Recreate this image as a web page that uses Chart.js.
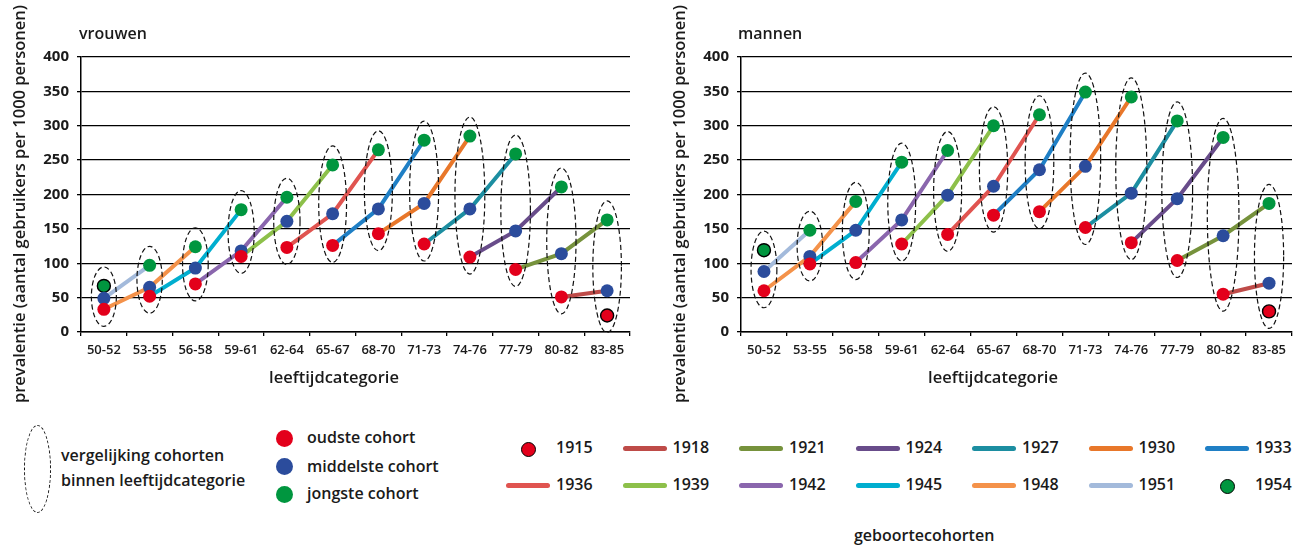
<!DOCTYPE html>
<html lang="nl">
<head>
<meta charset="utf-8">
<script src="https://cdn.jsdelivr.net/npm/chart.js@4.4.1/dist/chart.umd.min.js"></script>
<style>
  html, body { margin: 0; padding: 0; background: #fff; }
  body { font-family: 'Open Sans', 'Noto Sans', sans-serif; color: #1a1a1a; }
  #wrap { position: relative; width: 1301px; height: 546px; overflow: hidden; }
  .paneel { position: absolute; top: 0; height: 400px; }
  .titel { position: absolute; top: 22px; font-size: 16px; font-weight: 600; line-height: 22px; }
  .xtitel { position: absolute; top: 366px; font-size: 16.5px; font-weight: 600; line-height: 22px; width: 200px; text-align: center; }
  .ytitel { position: absolute; width: 420px; height: 20px; line-height: 20px; text-align: center;
            font-size: 16.5px; font-weight: 600; transform: rotate(-90deg); white-space: nowrap; }
  .lg { position: absolute; font-size: 16px; font-weight: 600; line-height: 22px; white-space: nowrap; }
  .dot { position: absolute; border-radius: 50%; box-sizing: border-box; }
  .streep { position: absolute; height: 5px; border-radius: 3px; }
</style>
</head>
<body>
<div id="wrap">
  <div class="paneel" style="left:0;width:650px"><canvas id="vrouwen" width="650" height="400"></canvas></div>
  <div class="paneel" style="left:660px;width:641px"><canvas id="mannen" width="641" height="400"></canvas></div>

  <div class="titel" style="left:79px">vrouwen</div>
  <div class="titel" style="left:738px">mannen</div>
  <div class="xtitel" style="left:234px">leeftijdcategorie</div>
  <div class="xtitel" style="left:893px">leeftijdcategorie</div>
  <div class="ytitel" style="left:-191px;top:194px">prevalentie (aantal gebruikers per 1000 personen)</div>
  <div class="ytitel" style="left:469px;top:194px">prevalentie (aantal gebruikers per 1000 personen)</div>

  <div id="legenda"></div>
</div>

<script>
// leeftijdscategorieën en geboortecohorten
const leeftijden = ["50-52", "53-55", "56-58", "59-61", "62-64", "65-67", "68-70", "71-73", "74-76", "77-79", "80-82", "83-85"];
const cohorten = [1915, 1918, 1921, 1924, 1927, 1930, 1933, 1936, 1939, 1942, 1945, 1948, 1951, 1954];
const cohortKleuren = ["#E3001B", "#BE4B48", "#76923C", "#684C8A", "#1C8EA1", "#E8772A", "#1F7FC5",
                       "#E05450", "#8DC04A", "#8A66AD", "#00AECF", "#F4924A", "#A3BADB", "#00963F"];
const yTicks = [0, 50, 100, 150, 200, 250, 300, 350, 400];

// prevalentie per leeftijdscategorie (per 1000 personen)
const vrouwenOudste    = [33, 52, 70, 110, 123, 126, 143, 128, 109, 91, 51, 24];
const vrouwenMiddelste = [49, 65, 93, 118, 161, 172, 179, 187, 179, 147, 114, 60];
const vrouwenJongste   = [67, 97, 124, 178, 196, 243, 265, 279, 285, 259, 211, 163];

const mannenOudste     = [60, 99, 101, 128, 142, 170, 175, 152, 130, 104, 55, 30];
const mannenMiddelste  = [88, 110, 148, 163, 199, 212, 236, 241, 202, 194, 140, 71];
const mannenJongste    = [119, 148, 190, 247, 264, 300, 316, 349, 342, 307, 283, 187];

const ROOD = "#E3001B", BLAUW = "#2B4C9C", GROEN = "#00963F";
const FONT = "'Open Sans', 'Noto Sans', sans-serif";
const laatsteCohort = cohorten[cohorten.length - 1];

// cohort van een punt: leeftijdsindex i, positie 0 = oudste, 1 = middelste, 2 = jongste
function cohortVan(i, pos) {
  return laatsteCohort - 6 + pos * 3 - i * 3;
}

function cohortLijnen(oudste, middelste, jongste) {
  const reeksen = [oudste, middelste, jongste];
  const lijnen = [];
  cohorten.forEach((jaar, k) => {
    const data = leeftijden.map(() => null);
    let n = 0;
    for (let pos = 0; pos < 3; pos++) {
      const i = (laatsteCohort - 6 + pos * 3 - jaar) / 3;
      if (i >= 0 && i < leeftijden.length) {
        data[i] = reeksen[pos][i];
        n++;
      }
    }
    if (n < 2) return;
    lijnen.push({
      label: String(jaar),
      data: data,
      borderColor: cohortKleuren[k],
      borderWidth: 4,
      pointRadius: 0,
      pointHoverRadius: 0,
      fill: false,
      spanGaps: false,
      order: 2,
    });
  });
  return lijnen;
}

function puntReeks(label, data, kleur, pos) {
  return {
    label: label,
    data: data,
    showLine: false,
    pointRadius: 6.5,
    pointHoverRadius: 6.5,
    pointBackgroundColor: kleur,
    pointBorderColor: "#000",
    pointBorderWidth: data.map((v, i) => {
      const c = cohortVan(i, pos);
      return c === cohorten[0] || c === laatsteCohort ? 1.4 : 0;
    }),
    order: 0,
  };
}

// gestippelde ellipsen rond elke leeftijdscategorie
function ellipsPlugin(reeksen) {
  return {
    id: "ellipsen",
    afterDatasetsDraw(chart) {
      const { ctx, scales } = chart;
      ctx.save();
      ctx.setLineDash([5, 3]);
      ctx.lineWidth = 1.2;
      ctx.strokeStyle = "#111";
      leeftijden.forEach((lab, i) => {
        const ys = reeksen.map((r) => scales.y.getPixelForValue(r[i]));
        const boven = Math.min(...ys) - 19;
        const onder = Math.max(...ys) + 17;
        const ry = (onder - boven) / 2;
        const rx = 11 + ry * 0.05;
        ctx.beginPath();
        ctx.ellipse(scales.x.getPixelForValue(i), (boven + onder) / 2, rx, ry, 0, 0, Math.PI * 2);
        ctx.stroke();
      });
      ctx.restore();
    },
  };
}

function maakGrafiek(id, oudste, middelste, jongste, rechts) {
  const ctx = document.getElementById(id).getContext("2d");
  return new Chart(ctx, {
    type: "line",
    data: {
      labels: leeftijden,
      datasets: [
        puntReeks("oudste cohort", oudste, ROOD, 0),
        puntReeks("middelste cohort", middelste, BLAUW, 1),
        puntReeks("jongste cohort", jongste, GROEN, 2),
        ...cohortLijnen(oudste, middelste, jongste),
      ],
    },
    options: {
      responsive: false,
      animation: false,
      layout: { padding: { left: 0, top: 57, right: rechts, bottom: 0 } },
      plugins: { legend: { display: false }, tooltip: { enabled: false }, title: { display: false } },
      scales: {
        x: {
          offset: true,
          grid: { offset: true, drawOnChartArea: false, drawTicks: true, tickLength: 4, color: "#000", lineWidth: 1.3 },
          border: { color: "#000", width: 1.5 },
          ticks: { color: "#1a1a1a", font: { family: FONT, size: 13, weight: "600" }, padding: 6, maxRotation: 0, autoSkip: false },
          afterFit: (s) => { s.height = 68; },
        },
        y: {
          min: yTicks[0],
          max: yTicks[yTicks.length - 1],
          afterBuildTicks: (s) => { s.ticks = yTicks.map((v) => ({ value: v })); },
          ticks: { color: "#1a1a1a", font: { family: FONT, size: 15, weight: "bold" }, padding: 8 },
          grid: { color: "#000", lineWidth: 1.3, tickLength: 4 },
          border: { color: "#000", width: 1.5 },
          afterFit: (s) => { s.width = 81; },
        },
      },
    },
    plugins: [ellipsPlugin([oudste, middelste, jongste])],
  });
}

maakGrafiek("vrouwen", vrouwenOudste, vrouwenMiddelste, vrouwenJongste, 20);
maakGrafiek("mannen", mannenOudste, mannenMiddelste, mannenJongste, 9);

// legenda
const legenda = document.getElementById("legenda");
function el(cls, stijl, tekst) {
  const d = document.createElement("div");
  d.className = cls;
  Object.assign(d.style, stijl);
  if (tekst) d.textContent = tekst;
  legenda.appendChild(d);
  return d;
}

el("dot", { left: "24px", top: "425px", width: "27px", height: "88px", border: "1.2px dashed #111" });
el("lg", { left: "61px", top: "444px" }, "vergelijking cohorten");
el("lg", { left: "61px", top: "469px" }, "binnen leeftijdcategorie");

[["oudste cohort", ROOD, 438], ["middelste cohort", BLAUW, 466.5], ["jongste cohort", GROEN, 494]].forEach(([t, k, y]) => {
  el("dot", { left: "275.5px", top: (y - 8.5) + "px", width: "17px", height: "17px", background: k });
  el("lg", { left: "307px", top: (y - 12) + "px" }, t);
});

const kolommen = 7;
cohorten.forEach((jaar, k) => {
  const rij = Math.floor(k / kolommen), kol = k % kolommen;
  const x0 = 506 + kol * 116.5;
  const yc = rij === 0 ? 448 : 485;
  if (k === 0 || k === cohorten.length - 1) {
    el("dot", { left: (x0 + 22 - 7.5) + "px", top: (yc + 1 - 7.5) + "px", width: "15px", height: "15px",
                background: cohortKleuren[k], border: "1.3px solid #000" });
  } else {
    el("streep", { left: x0 + "px", top: (yc - 2) + "px", width: "44px", background: cohortKleuren[k] });
  }
  el("lg", { left: (x0 + 50) + "px", top: (yc - 12) + "px" }, String(jaar));
});
el("lg", { left: "854px", top: "524px" }, "geboortecohorten");
</script>
</body>
</html>
